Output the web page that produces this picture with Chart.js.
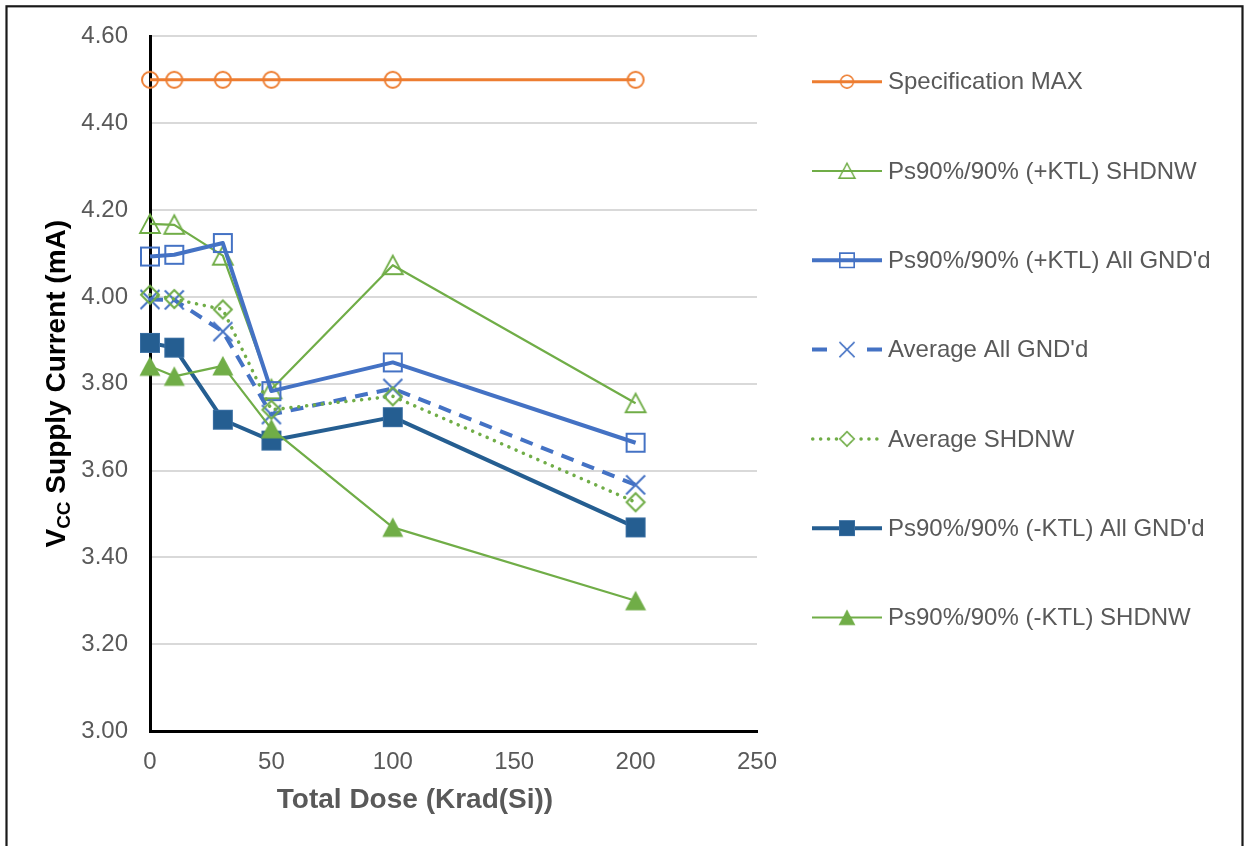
<!DOCTYPE html>
<html>
<head>
<meta charset="utf-8">
<script src="https://cdn.jsdelivr.net/npm/chart.js@4.4.1/dist/chart.umd.min.js"></script>
<style>
  html, body { margin: 0; padding: 0; background: #ffffff; }
  canvas { display: block; }
</style>
</head>
<body>
<canvas id="chart" width="1244" height="846"></canvas>
<script>
// Total dose steps (Krad(Si))
const doses = [0, 10, 30, 50, 100, 200];

// VCC supply current, mA
const specMax       = [4.50, 4.50, 4.50, 4.50, 4.50, 4.50];
const plusKtlShdnw  = [4.168, 4.166, 4.095, 3.787, 4.073, 3.755];
const plusKtlGnd    = [4.093, 4.097, 4.124, 3.783, 3.849, 3.664];
const avgGnd        = [3.994, 3.993, 3.920, 3.729, 3.789, 3.567];
const avgShdnw      = [4.005, 3.995, 3.971, 3.740, 3.771, 3.527];
const minusKtlGnd   = [3.894, 3.883, 3.717, 3.669, 3.723, 3.469];
const minusKtlShdnw = [3.840, 3.817, 3.841, 3.696, 3.469, 3.300];

const seriesNames = [
  "Specification MAX",
  "Ps90%/90% (+KTL) SHDNW",
  "Ps90%/90% (+KTL) All GND'd",
  "Average All GND'd",
  "Average SHDNW",
  "Ps90%/90% (-KTL) All GND'd",
  "Ps90%/90% (-KTL) SHDNW"
];

const xTicks = [0, 50, 100, 150, 200, 250];
const yTicks = [3.00, 3.20, 3.40, 3.60, 3.80, 4.00, 4.20, 4.40, 4.60];

const ORANGE = '#ED7D31';
const GREEN = '#70AD47';
const BLUE = '#4472C4';
const NAVY = '#255E91';
const TEXT = '#595959';
const FONT = "'Liberation Sans', Arial, Helvetica, sans-serif";

// Marker sprites, drawn once and reused for points and legend entries
function sprite(draw) {
  const c = document.createElement('canvas');
  c.width = 30; c.height = 30;
  const g = c.getContext('2d');
  g.translate(15, 15);
  draw(g);
  return c;
}
const markers = {
  circle: sprite(g => {
    g.strokeStyle = ORANGE; g.lineWidth = 2;
    g.beginPath(); g.arc(0, 0, 8, 0, Math.PI * 2); g.stroke();
  }),
  openTri: sprite(g => {
    g.strokeStyle = GREEN; g.lineWidth = 1.8; g.lineJoin = 'miter';
    g.beginPath(); g.moveTo(0, -9.5); g.lineTo(10, 9); g.lineTo(-10, 9); g.closePath(); g.stroke();
  }),
  openSquare: sprite(g => {
    g.strokeStyle = BLUE; g.lineWidth = 2;
    g.strokeRect(-9, -9, 18, 18);
  }),
  cross: sprite(g => {
    g.strokeStyle = BLUE; g.lineWidth = 2;
    g.beginPath();
    g.moveTo(-9.5, -9.5); g.lineTo(9.5, 9.5);
    g.moveTo(9.5, -9.5); g.lineTo(-9.5, 9.5);
    g.stroke();
  }),
  diamond: sprite(g => {
    g.strokeStyle = GREEN; g.lineWidth = 2;
    g.beginPath(); g.moveTo(0, -9); g.lineTo(9, 0); g.lineTo(0, 9); g.lineTo(-9, 0); g.closePath(); g.stroke();
  }),
  filledSquare: sprite(g => {
    g.fillStyle = NAVY;
    g.fillRect(-9.5, -9.5, 19, 19);
    g.strokeStyle = '#3A6FA3'; g.lineWidth = 1;
    g.strokeRect(-9.5, -9.5, 19, 19);
  }),
  filledTri: sprite(g => {
    g.fillStyle = GREEN;
    g.beginPath(); g.moveTo(0, -10); g.lineTo(10.5, 9.5); g.lineTo(-10.5, 9.5); g.closePath(); g.fill();
  })
};

function points(values) {
  return doses.map((d, i) => ({ x: d, y: values[i] }));
}

const styles = [
  { data: specMax,       color: ORANGE, width: 3,   dash: [],         cap: 'butt',  marker: markers.circle },
  { data: plusKtlShdnw,  color: GREEN,  width: 2.2, dash: [],         cap: 'butt',  marker: markers.openTri },
  { data: plusKtlGnd,    color: BLUE,   width: 4,   dash: [],         cap: 'butt',  marker: markers.openSquare },
  { data: avgGnd,        color: BLUE,   width: 4,   dash: [13, 9],    cap: 'butt',  marker: markers.cross },
  { data: avgShdnw,      color: GREEN,  width: 3.5, dash: [0.1, 7.8], cap: 'round', marker: markers.diamond },
  { data: minusKtlGnd,   color: NAVY,   width: 4,   dash: [],         cap: 'butt',  marker: markers.filledSquare },
  { data: minusKtlShdnw, color: GREEN,  width: 2.2, dash: [],         cap: 'butt',  marker: markers.filledTri }
];

const datasets = styles.map((s, i) => ({
  label: seriesNames[i],
  data: points(s.data),
  borderColor: s.color,
  backgroundColor: s.color,
  borderWidth: s.width,
  borderDash: s.dash,
  borderCapStyle: s.cap,
  borderJoinStyle: 'round',
  pointStyle: s.marker,
  pointRadius: 10,
  tension: 0,
  clip: false,
  order: styles.length - i
}));

// Frame, axis titles and the right-hand legend
const decor = {
  id: 'decor',
  beforeDraw(chart) {
    const ctx = chart.ctx;
    ctx.save();
    ctx.fillStyle = '#ffffff';
    ctx.fillRect(0, 0, chart.width, chart.height);
    ctx.restore();
  },
  afterDraw(chart) {
    const ctx = chart.ctx;
    const area = chart.chartArea;
    ctx.save();

    // outer frame
    ctx.strokeStyle = '#1a1a1a';
    ctx.lineWidth = 2.2;
    ctx.strokeRect(6.5, 6.3, 1236, 900);

    // x axis title
    ctx.fillStyle = TEXT;
    ctx.font = 'bold 28px ' + FONT;
    ctx.textAlign = 'center';
    ctx.textBaseline = 'middle';
    ctx.fillText('Total Dose (Krad(Si))', 415, 800);

    // y axis title with subscript
    ctx.save();
    ctx.translate(65, (area.top + area.bottom) / 2);
    ctx.rotate(-Math.PI / 2);
    ctx.fillStyle = '#000000';
    ctx.textBaseline = 'alphabetic';
    ctx.textAlign = 'left';
    const big = 'bold 28px ' + FONT, small = 'bold 19px ' + FONT;
    ctx.font = big;  const wV = ctx.measureText('V').width;
    const rest = ' Supply Current (mA)';
    const wRest = ctx.measureText(rest).width;
    ctx.font = small; const wCC = ctx.measureText('CC').width;
    let x0 = -(wV + wCC + wRest) / 2;
    ctx.font = big;   ctx.fillText('V', x0, 0);
    ctx.font = small; ctx.fillText('CC', x0 + wV, 5);
    ctx.font = big;   ctx.fillText(rest, x0 + wV + wCC, 0);
    ctx.restore();

    // legend
    const lx0 = 812, lx1 = 882, mx = 847, tx = 888;
    ctx.font = '24px ' + FONT;
    ctx.textAlign = 'left';
    ctx.textBaseline = 'middle';
    styles.forEach((s, i) => {
      const y = 81.7 + i * 89.3;
      ctx.save();
      ctx.strokeStyle = s.color;
      ctx.lineWidth = s.width;
      ctx.lineCap = s.cap;
      ctx.beginPath();
      if (i === 3) {
        ctx.moveTo(lx0, y); ctx.lineTo(lx0 + 15, y);
        ctx.moveTo(lx1 - 15, y); ctx.lineTo(lx1, y);
      } else if (i === 4) {
        ctx.setLineDash(s.dash);
        ctx.moveTo(lx0 + 0.7, y); ctx.lineTo(lx0 + 27, y);
        ctx.moveTo(lx1 - 21, y); ctx.lineTo(lx1 - 3, y);
      } else {
        ctx.moveTo(lx0, y); ctx.lineTo(lx1, y);
      }
      ctx.stroke();
      ctx.restore();
      const m = s.marker;
      ctx.save();
      ctx.translate(mx, y);
      ctx.scale(0.8, 0.8);
      ctx.drawImage(m, -m.width / 2, -m.height / 2);
      ctx.restore();
      ctx.fillStyle = TEXT;
      ctx.fillText(seriesNames[i], tx, y + 1);
    });

    ctx.restore();
  }
};

new Chart(document.getElementById('chart'), {
  type: 'line',
  data: { datasets },
  options: {
    responsive: false,
    animation: false,
    events: [],
    layout: { padding: { left: 0, right: 487, top: 35, bottom: 0 } },
    plugins: {
      legend: { display: false },
      tooltip: { enabled: false },
      title: { display: false }
    },
    scales: {
      x: {
        type: 'linear',
        min: xTicks[0],
        max: xTicks[xTicks.length - 1],
        afterBuildTicks: s => { s.ticks = xTicks.map(v => ({ value: v })); },
        afterFit: s => { s.height = 115; },
        grid: { display: false, drawTicks: false },
        border: { display: true, color: '#000000', width: 3 },
        ticks: {
          color: TEXT,
          font: { family: FONT, size: 24 },
          padding: 17,
          maxRotation: 0,
          callback: v => String(v)
        }
      },
      y: {
        type: 'linear',
        min: yTicks[0],
        max: yTicks[yTicks.length - 1],
        afterBuildTicks: s => { s.ticks = yTicks.map(v => ({ value: v })); },
        afterFit: s => { s.width = 150; },
        grid: { color: '#D9D9D9', lineWidth: 2, drawTicks: false },
        border: { display: true, color: '#000000', width: 3 },
        ticks: {
          color: TEXT,
          font: { family: FONT, size: 24 },
          padding: 22,
          callback: v => Number(v).toFixed(2)
        }
      }
    }
  },
  plugins: [decor]
});
</script>
</body>
</html>
